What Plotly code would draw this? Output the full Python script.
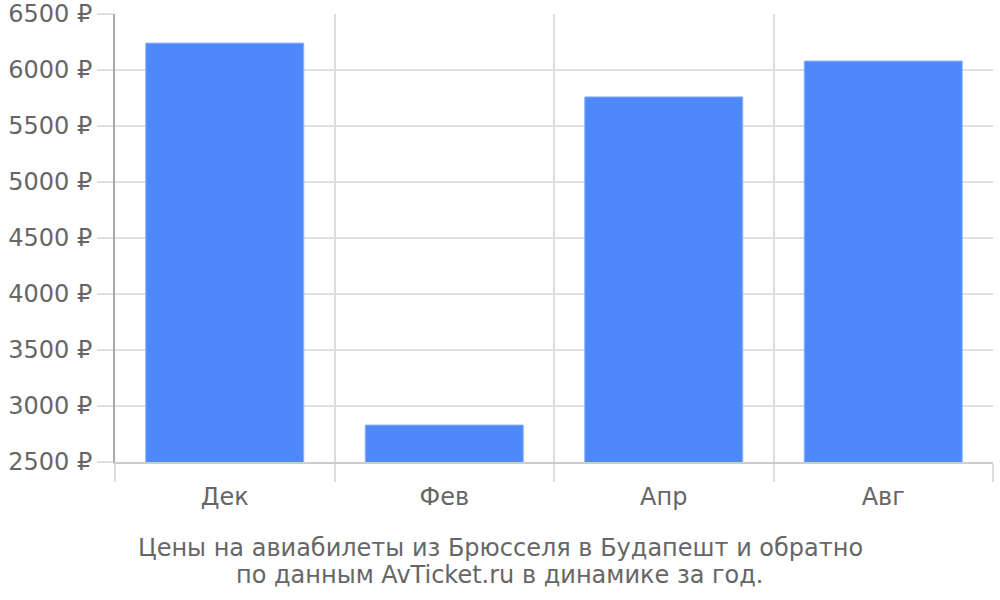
import plotly.graph_objects as go

categories = ["Дек", "Фев", "Апр", "Авг"]
prices = [6240, 2830, 5760, 6080]
y_ticks = [2500, 3000, 3500, 4000, 4500, 5000, 5500, 6000, 6500]
y_tick_labels = [f"{v} ₽" for v in y_ticks]
caption_lines = ["Цены на авиабилеты из Брюсселя в Будапешт и обратно",
                 "по данным AvTicket.ru в динамике за год."]

fig = go.Figure()
fig.add_trace(go.Bar(
    x=categories, y=prices, width=0.72,
    marker=dict(color="#4d89f9", line=dict(color="#8fb4fb", width=1)),
    hoverinfo="x+y",
))

fig.update_layout(
    width=1000, height=600,
    margin=dict(l=115, r=7, t=14, b=138, autoexpand=False),
    paper_bgcolor="white", plot_bgcolor="white",
    font=dict(family="DejaVu Sans", color="#666666", size=24),
    showlegend=False,
    bargap=0.28,
    xaxis=dict(
        type="category", tickson="boundaries", ticks="outside", ticklen=18,
        tickcolor="#dddddd", tickwidth=1.5, automargin=False,
        ticklabelstandoff=12,
        showgrid=True, gridcolor="#dddddd", gridwidth=1.5,
        showline=True, linecolor="#cccccc", linewidth=2,
        mirror=False, range=[-0.5, 3.5],
        tickfont=dict(size=24, color="#666666"),
    ),
    yaxis=dict(
        range=[2500, 6500], tickvals=y_ticks, ticktext=y_tick_labels,
        ticks="outside", ticklen=16, tickcolor="#e0e0e0", tickwidth=1.5,
        showgrid=True, gridcolor="#e0e0e0", gridwidth=1.5, automargin=False,
        showline=True, linecolor="#aaaaaa", linewidth=2,
        zeroline=False, tickfont=dict(size=24, color="#666666"),
    ),
    annotations=[
        dict(text=caption_lines[0], xref="paper", yref="paper", x=0.4385, y=-0.192,
             xanchor="center", yanchor="middle", showarrow=False,
             font=dict(family="DejaVu Sans", size=24, color="#666666")),
        dict(text=caption_lines[1], xref="paper", yref="paper", x=0.4385, y=-0.252,
             xanchor="center", yanchor="middle", showarrow=False,
             font=dict(family="DejaVu Sans", size=24, color="#666666")),
    ],
)

fig.write_html("out.html", config={"displayModeBar": False},
               post_script="document.body.style.margin='0';")
